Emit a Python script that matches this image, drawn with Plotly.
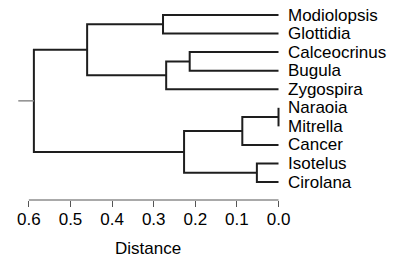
import plotly.graph_objects as go

# ---- data ----
leaf_labels = ["Modiolopsis", "Glottidia", "Calceocrinus", "Bugula", "Zygospira",
               "Naraoia", "Mitrella", "Cancer", "Isotelus", "Cirolana"]
# merges: negative = leaf (1-based index into leaf_labels), positive = earlier merge (1-based)
merge_a = [-6, -9, -8, -3, 4, -1, 3, 6, 8]
merge_b = [-7, -10, 1, -4, -5, -2, 2, 5, 7]
merge_height = [0.0, 0.052, 0.087, 0.2135, 0.27, 0.2776, 0.227, 0.46, 0.588]
tick_vals = [0.6, 0.5, 0.4, 0.3, 0.2, 0.1, 0.0]
tick_text = ["0.6", "0.5", "0.4", "0.3", "0.2", "0.1", "0.0"]
root_stub = 0.0375

# ---- build dendrogram segments ----
node_x, node_y = [], []
def pos(ref):
    if ref < 0:
        return 0.0, float(-ref)
    return node_x[ref - 1], node_y[ref - 1]

xs, ys = [], []
for a, b, h in zip(merge_a, merge_b, merge_height):
    xa, ya = pos(a)
    xb, yb = pos(b)
    xs += [xa, h, h, xb, None]
    ys += [ya, ya, yb, yb, None]
    node_x.append(h)
    node_y.append((ya + yb) / 2)

root_x, root_y = node_x[-1], node_y[-1]

font = "Liberation Sans, Arial, sans-serif"
fs = 17
fig = go.Figure()
fig.add_trace(go.Scatter(x=xs, y=ys, mode="lines",
                         line=dict(color="#1e1e1e", width=2),
                         hoverinfo="skip", showlegend=False))
fig.add_trace(go.Scatter(x=[root_x + root_stub, root_x], y=[root_y, root_y], mode="lines",
                         line=dict(color="#8c8c8c", width=1.5),
                         hoverinfo="skip", showlegend=False))

for i, lab in enumerate(leaf_labels):
    fig.add_annotation(x=0, y=i + 1, xref="x", yref="y", text=lab, showarrow=False,
                       xanchor="left", yanchor="middle", xshift=8, borderpad=0,
                       font=dict(family=font, size=fs, color="#000"))

# axis line (only spanning the tick range)
fig.add_shape(type="line", x0=tick_vals[0], x1=tick_vals[-1], y0=0, y1=0,
              xref="x", yref="paper", line=dict(color="#555", width=1))

fig.add_annotation(x=0.3137, y=0, xref="x", yref="paper", text="Distance",
                   showarrow=False, xanchor="center", yanchor="middle", yshift=-48,
                   borderpad=0, font=dict(family=font, size=fs, color="#000"))

fig.update_layout(
    width=396, height=260,
    margin=dict(l=10, r=111, t=5, b=60),
    paper_bgcolor="white", plot_bgcolor="white",
    hovermode=False,
    xaxis=dict(range=[0.6454, -0.0156], showgrid=False, zeroline=False, showline=False,
               tickvals=tick_vals, ticktext=tick_text, ticks="outside", ticklen=6,
               tickcolor="#555", tickwidth=1, ticklabelstandoff=-2, fixedrange=True,
               tickfont=dict(family=font, size=fs, color="#000")),
    yaxis=dict(range=[10.968, 0.461], showgrid=False, zeroline=False, showline=False,
               showticklabels=False, ticks="", fixedrange=True),
)
fig.write_html("out.html", config={"displayModeBar": False},
               post_script="document.body.style.margin='0px';")
